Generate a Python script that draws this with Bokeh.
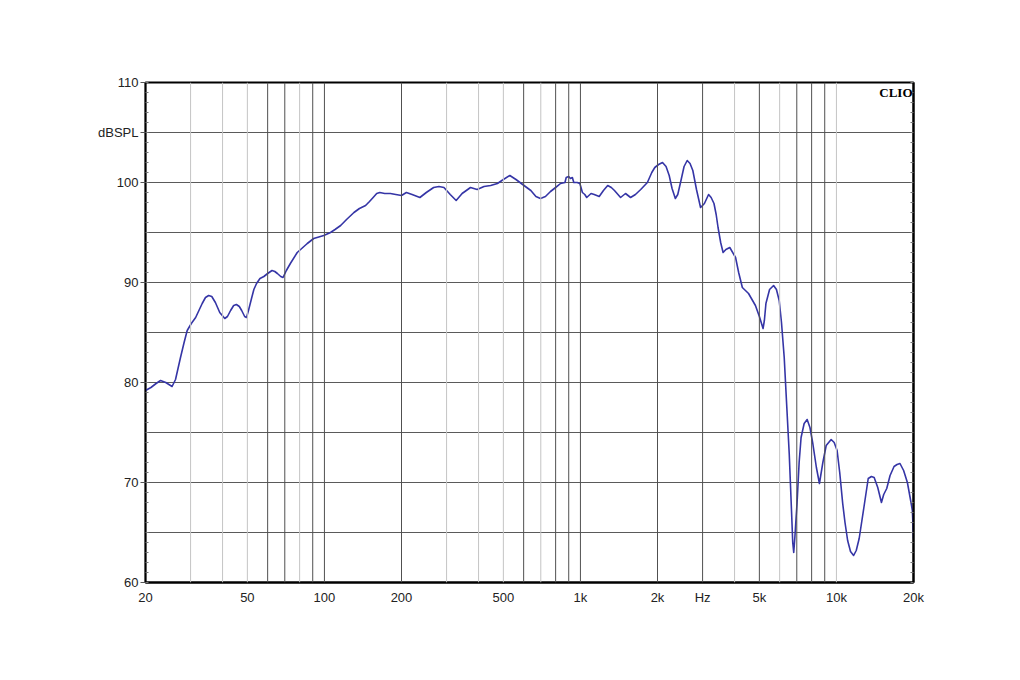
from bokeh.plotting import figure
from bokeh.models import FixedTicker, LinearAxis, Span, Label
from bokeh.embed import file_html
from bokeh.resources import INLINE

# ---- data ----
freq = [20, 21, 22, 22.9, 24, 25.4, 26.2, 27.4, 28.3, 29.1, 30.2, 31.4, 33.3, 34.3, 35.3, 36.3,
        37.5, 39, 40.8, 41.8, 43, 44.2, 45.3, 46.5, 47.5, 48.8, 49.6, 50.5, 51.9, 53, 54.3, 56,
        58, 60, 62.4, 64, 65.5, 67.5, 68.9, 71, 73.6, 78.3, 85.7, 90.8, 99.4, 105.6, 110, 115.7,
        122, 130.4, 137, 144.8, 150, 155, 160, 164.5, 172, 181, 190, 200, 209, 220, 236, 250,
        267, 280, 293, 310, 327, 345, 372, 395, 420, 446, 474, 500, 530, 560, 602, 640, 670,
        698, 730, 764, 800, 836, 870, 880, 900, 914, 930, 942, 971, 995, 1018, 1040, 1058, 1100,
        1132, 1184, 1230, 1278, 1320, 1358, 1435, 1500, 1570, 1640, 1720, 1826, 1900, 1952,
        2020, 2092, 2160, 2222, 2280, 2348, 2400, 2470, 2540, 2612, 2680, 2748, 2840, 2946,
        3050, 3166, 3240, 3324, 3390, 3448, 3530, 3608, 3700, 3832, 4036, 4150, 4290, 4536,
        4826, 5000, 5168, 5230, 5304, 5480, 5682, 5830, 5976, 6100, 6252, 6400, 6540, 6680,
        6750, 6810, 6880, 6950, 7016, 7150, 7276, 7480, 7684, 7880, 8086, 8350, 8582, 8850,
        9120, 9536, 9800, 10060, 10300, 10580, 10800, 11060, 11350, 11670, 11950, 12270,
        12800, 13310, 13700, 14040, 14500, 14990, 15300, 15720, 16200, 16790, 17250, 17710,
        18300, 18930, 19400, 19800, 20000]
spl = [79.2, 79.5, 79.9, 80.2, 80.0, 79.6, 80.3, 82.5, 84.0, 85.2, 85.9, 86.5, 87.9, 88.5, 88.7, 88.6,
       88.0, 87.0, 86.4, 86.6, 87.2, 87.7, 87.8, 87.6, 87.2, 86.6, 86.5, 87.2, 88.4, 89.3, 89.9, 90.4,
       90.6, 90.9, 91.2, 91.1, 90.9, 90.6, 90.5, 91.2, 91.9, 93.0, 93.9, 94.4, 94.7, 95.0, 95.3, 95.7,
       96.3, 97.0, 97.4, 97.7, 98.1, 98.5, 98.9, 99.0, 98.9, 98.9, 98.8, 98.7, 99.0, 98.8, 98.5, 99.0,
       99.5, 99.6, 99.5, 98.8, 98.2, 98.9, 99.5, 99.3, 99.6, 99.7, 99.9, 100.3, 100.7, 100.3, 99.7, 99.2, 98.6,
       98.4, 98.6, 99.1, 99.5, 99.9, 100.0, 100.5, 100.6, 100.4, 100.5, 100.0, 100.0, 99.9, 99.0, 98.8, 98.5, 98.9,
       98.8, 98.6, 99.2, 99.7, 99.5, 99.2, 98.5, 98.9, 98.5, 98.8, 99.3, 100.0, 101.0, 101.5,
       101.8, 102.0, 101.6, 100.7, 99.4, 98.4, 98.8, 100.2, 101.6, 102.2, 101.9, 101.2, 99.3, 97.5,
       97.9, 98.8, 98.5, 97.9, 96.8, 95.5, 94.0, 93.0, 93.3, 93.5, 92.5, 91.0, 89.5, 88.9,
       87.7, 86.6, 85.4, 86.2, 87.9, 89.3, 89.7, 89.3, 88.2, 86.0, 82.5, 77.5, 72.9, 67.0,
       64.0, 63.0, 64.5, 66.3, 67.9, 72.0, 74.5, 75.9, 76.3, 75.5, 73.9, 71.5, 69.9, 72.0,
       73.7, 74.3, 74.0, 73.2, 71.0, 67.9, 66.0, 64.2, 63.1, 62.7, 63.2, 64.4,
       67.5, 70.4, 70.6, 70.5, 69.5, 68.0, 68.8, 69.4, 70.7, 71.6, 71.8, 71.9,
       71.2, 70.0, 68.5, 67.2, 64.4]

x_ticks = [20, 50, 100, 200, 500, 1000, 2000, 3000, 5000, 10000, 20000]
x_labels = ["20", "50", "100", "200", "500", "1k", "2k", "Hz", "5k", "10k", "20k"]
y_ticks = [60, 70, 80, 90, 100, 105, 110]
y_labels = ["60", "70", "80", "90", "100", "dBSPL", "110"]
hgrid = [65, 70, 75, 80, 85, 90, 95, 100, 105]
vgrid = [30, 40, 50, 60, 70, 80, 90, 100, 200, 300, 400, 500, 600, 700, 800, 900,
         1000, 2000, 3000, 4000, 5000, 6000, 7000, 8000, 9000, 10000]
vgrid_dark = [False, False, False, True, True, False, True, True, True, False, False, False, True, False, True, True,
              True, True, True, False, True, False, True, True, True, False]

FONT = "Liberation Sans"

p = figure(width=1000, height=660, frame_width=768, frame_height=500,
           x_axis_type="log", x_range=(20, 20000), y_range=(60, 110),
           output_backend="svg", toolbar_location=None,
           min_border_left=145, min_border_right=87, min_border_top=82, min_border_bottom=78)
p.background_fill_color = "white"
p.border_fill_color = "white"
p.outline_line_color = "black"
p.outline_line_width = 2
p.xgrid.visible = False
p.ygrid.ticker = FixedTicker(ticks=hgrid)
p.ygrid.grid_line_color = "#5a5a5a"
p.ygrid.grid_line_width = 1

for f, dark in zip(vgrid, vgrid_dark):
    p.add_layout(Span(location=f, dimension="height",
                      line_color="#505050" if dark else "#c4c4c4", line_width=1))

p.line(freq, spl, line_color="#3535a6", line_width=1.6, line_join="round")

xa = p.xaxis[0]
xa.ticker = FixedTicker(ticks=x_ticks, minor_ticks=[])
xa.major_label_overrides = {t: l for t, l in zip(x_ticks, x_labels)}
xa.major_tick_in = 0
xa.major_tick_out = 0
xa.minor_tick_in = 0
xa.minor_tick_out = 0
xa.axis_line_color = "black"
xa.axis_line_width = 2
xa.major_label_standoff = 7
xa.major_label_text_font = FONT
xa.major_label_text_font_size = "13px"
xa.major_label_text_color = "#222222"

ya = p.yaxis[0]
ya.ticker = FixedTicker(ticks=y_ticks, minor_ticks=list(range(60, 111)))
ya.major_label_overrides = {t: l for t, l in zip(y_ticks, y_labels)}
ya.major_tick_in = 0
ya.major_tick_out = 5
ya.minor_tick_in = 3
ya.minor_tick_out = 0
ya.major_tick_line_color = "#555555"
ya.minor_tick_line_color = "#777777"
ya.axis_line_color = "black"
ya.axis_line_width = 1.5
ya.major_label_standoff = 2
ya.major_label_text_font = FONT
ya.major_label_text_font_size = "13px"
ya.major_label_text_color = "#222222"

ra = LinearAxis(ticker=FixedTicker(ticks=[], minor_ticks=list(range(60, 111))))
ra.minor_tick_in = 3
ra.minor_tick_out = 0
ra.major_tick_in = 0
ra.major_tick_out = 0
ra.minor_tick_line_color = "#777777"
ra.axis_line_color = "black"
ra.axis_line_width = 2
ra.major_label_text_font_size = "0px"
p.add_layout(ra, "right")

p.add_layout(Label(x=20000, y=110, text="CLIO", text_align="right", text_baseline="top",
                   x_offset=-1, y_offset=-2, text_font="Liberation Serif",
                   text_font_style="bold", text_font_size="13px", text_color="black"))

open("out.html", "w").write(file_html(p, INLINE))
